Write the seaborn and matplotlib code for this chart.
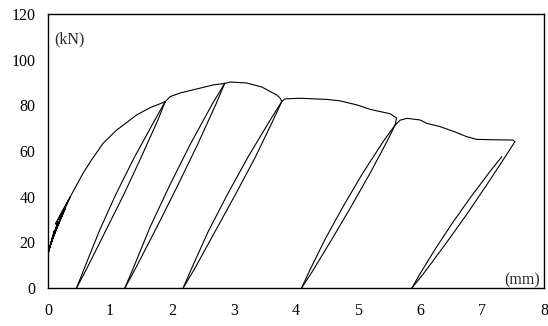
import numpy as np
import pandas as pd
import matplotlib
matplotlib.use("Agg")
import matplotlib.pyplot as plt
import seaborn as sns

# Datos (desplazamiento en mm, carga en kN)

# ciclos pequeños iniciales
ini_x = [0.00, 0.10, 0.01, 0.16, 0.03, 0.22, 0.05, 0.28, 0.07, 0.36, 0.12, 0.46]
ini_y = [15, 25, 16, 29, 18, 32, 20, 35, 22, 40, 28, 45]

# tramos de la envolvente
env1_x = [0.46, 0.56, 0.70, 0.89, 1.10, 1.43, 1.65, 1.89]
env1_y = [45, 50, 56, 63.4, 69, 75.8, 79, 81.6]
env2_x = [1.89, 1.97, 2.13, 2.45, 2.66, 2.85]
env2_y = [81.6, 83.8, 85.4, 87.5, 88.9, 89.6]
env3_x = [2.85, 2.94, 3.20, 3.45, 3.69, 3.75, 3.77]
env3_y = [89.6, 90.2, 89.8, 88.0, 84.5, 83.0, 81.6]
env4_x = [3.77, 3.82, 4.06, 4.49, 4.70, 4.98, 5.20, 5.52, 5.62, 5.60]
env4_y = [81.6, 82.8, 83.1, 82.6, 82.0, 80.2, 78.2, 76.3, 74.5, 71.4]
env5_x = [5.60, 5.68, 5.79, 6.00, 6.11, 6.32, 6.55, 6.75, 6.91, 7.20, 7.50, 7.53]
env5_y = [71.4, 73.5, 74.3, 73.6, 72.1, 70.7, 68.5, 66.3, 65.1, 64.9, 64.8, 64.1]

# descargas (pico -> deformación residual)
des1_x = [1.89, 1.77, 1.50, 1.22, 0.92, 0.62, 0.46]
des1_y = [81.6, 73.4, 57.1, 40.8, 24.5, 8.2, 0]
des2_x = [2.85, 2.71, 2.41, 2.09, 1.76, 1.42, 1.24]
des2_y = [89.6, 80.6, 62.7, 44.8, 26.9, 9.0, 0]
des3_x = [3.77, 3.63, 3.34, 3.02, 2.69, 2.36, 2.18]
des3_y = [81.6, 73.4, 57.1, 40.8, 24.5, 8.2, 0]
des4_x = [5.60, 5.47, 5.19, 4.89, 4.58, 4.26, 4.09]
des4_y = [71.4, 64.3, 50.0, 35.7, 21.4, 7.1, 0]
des5_x = [7.53, 7.38, 7.07, 6.75, 6.41, 6.06, 5.87]
des5_y = [64.1, 57.7, 44.9, 32.1, 19.2, 6.4, 0]

# recargas (deformación residual -> pico)
rec1_x = [0.46, 0.58, 0.82, 1.09, 1.39, 1.72, 1.89]
rec1_y = [0, 8.2, 24.5, 40.8, 57.1, 73.4, 81.6]
rec2_x = [1.24, 1.38, 1.65, 1.96, 2.29, 2.65, 2.85]
rec2_y = [0, 9.0, 26.9, 44.8, 62.7, 80.6, 89.6]
rec3_x = [2.18, 2.31, 2.58, 2.89, 3.22, 3.58, 3.77]
rec3_y = [0, 8.2, 24.5, 40.8, 57.1, 73.4, 81.6]
rec4_x = [4.09, 4.21, 4.47, 4.76, 5.07, 5.41, 5.60]
rec4_y = [0, 7.1, 21.4, 35.7, 50.0, 64.3, 71.4]
rec5_x = [5.87, 5.99, 6.25, 6.53, 6.83, 7.15, 7.32]
rec5_y = [0, 5.75, 17.25, 28.75, 40.25, 51.75, 57.5]

tramos = [
    (ini_x, ini_y), (env1_x, env1_y), (des1_x, des1_y), (rec1_x, rec1_y),
    (env2_x, env2_y), (des2_x, des2_y), (rec2_x, rec2_y),
    (env3_x, env3_y), (des3_x, des3_y), (rec3_x, rec3_y),
    (env4_x, env4_y), (des4_x, des4_y), (rec4_x, rec4_y),
    (env5_x, env5_y), (des5_x, des5_y), (rec5_x, rec5_y),
]

sns.set_style("white")
plt.rcParams['font.family'] = ['Liberation Serif', 'DejaVu Serif']

fig = plt.figure(figsize=(5.48, 3.26), dpi=100)
ax = fig.add_axes([0.0876, 0.1166, 0.9051, 0.8405])

for tx, ty in tramos:
    sns.lineplot(x=tx, y=ty, sort=False, estimator=None, color='black',
                 linewidth=0.8, ax=ax)

ax.set_xlim(0, 8)
ax.set_ylim(0, 120)
ax.set_xticks(range(0, 9))
ax.set_yticks(range(0, 121, 20))
ax.tick_params(axis='both', direction='in', length=2.5, width=0.8,
               labelsize=11.5, colors='black')
ax.tick_params(axis='y', pad=9)
ax.tick_params(axis='x', pad=11)
for s in ax.spines.values():
    s.set_color('black')
    s.set_linewidth(1.0)

ax.text(0.1, 109, '(kN)', fontsize=11.5, ha='left', va='center')
ax.text(7.93, 3.5, '(mm)', fontsize=11.5, ha='right', va='center')
ax.set_xlabel('')
ax.set_ylabel('')

plt.savefig('out.png', dpi=100)
plt.close()
